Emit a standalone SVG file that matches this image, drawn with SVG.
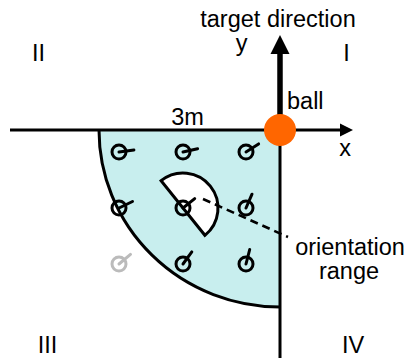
<svg xmlns="http://www.w3.org/2000/svg" width="407" height="358" viewBox="0 0 407 358">
<style>
text{font-family:"Liberation Sans",Arial,sans-serif;font-size:23.5px;fill:#000}
.ax{stroke:#000;stroke-width:3;fill:none}
.mk circle{fill:none;stroke:#000;stroke-width:3}
.mk line{stroke:#000;stroke-width:3;stroke-linecap:round}
.gray circle,.gray line{stroke:#BBBBBB}
</style>
<rect width="407" height="358" fill="#fff"/>
<g id="region">
<path d="M280,130 L99,130 A181,177 0 0 0 280,307 Z" fill="#C8EEEE"/>
<path d="M99,130 A181,177 0 0 0 280,307" class="ax"/>
</g>
<g id="axes">
<line x1="10" y1="130" x2="341" y2="130" class="ax"/>
<polygon points="353,130 340,123.5 340,136.5" fill="#000"/>
<line x1="280" y1="130" x2="280" y2="358" class="ax"/>
<line x1="280" y1="130" x2="280" y2="52" stroke="#000" stroke-width="5.5"/>
<polygon points="280,35 270.5,54 289.5,54" fill="#000"/>
</g>
<g id="m11" class="mk"><circle cx="119" cy="152" r="7"/><line x1="119" y1="152" x2="133.9" y2="150"/></g>
<g id="m12" class="mk"><circle cx="183" cy="152" r="7"/><line x1="183" y1="152" x2="197.6" y2="148.7"/></g>
<g id="m13" class="mk"><circle cx="246" cy="152" r="7"/><line x1="246" y1="152" x2="258.6" y2="143.9"/></g>
<g id="m21" class="mk"><circle cx="119" cy="208" r="7"/><line x1="119" y1="208" x2="132.5" y2="201.5"/></g>
<g id="m23" class="mk"><circle cx="246" cy="208" r="7"/><line x1="246" y1="208" x2="252" y2="194.2"/></g>
<g id="m31" class="mk gray"><circle cx="119" cy="264" r="7"/><line x1="119" y1="264" x2="130.5" y2="254.4"/></g>
<g id="m32" class="mk"><circle cx="183" cy="264" r="7"/><line x1="183" y1="264" x2="191.8" y2="251.9"/></g>
<g id="m33" class="mk"><circle cx="246" cy="264" r="7"/><line x1="246" y1="264" x2="249.7" y2="249.5"/></g>
<g id="wedge">
<path d="M183,208 L161.1,180.7 A35,35 0 0 1 210.3,186.1 A35,35 0 0 1 204.9,235.3 Z" fill="#fff" stroke="#000" stroke-width="3" stroke-linejoin="miter"/>
</g>
<g id="m22" class="mk"><circle cx="183" cy="208" r="7"/><line x1="183" y1="208" x2="194.7" y2="198.6"/></g>
<g id="connectors">
<line x1="203" y1="199" x2="288" y2="237" stroke="#000" stroke-width="2.6" stroke-dasharray="8,5"/>
</g>
<g id="ball"><circle cx="280" cy="130" r="16" fill="#FF6600"/></g>
<g id="labels">
<text x="278" y="27" text-anchor="middle">target direction</text>
<text x="241.5" y="51" text-anchor="middle">y</text>
<text x="346.5" y="61" text-anchor="middle">I</text>
<text x="38.5" y="61" text-anchor="middle">II</text>
<text x="47.5" y="353" text-anchor="middle">III</text>
<text x="353" y="353" text-anchor="middle">IV</text>
<text x="287" y="109">ball</text>
<text x="345" y="156" text-anchor="middle">x</text>
<text x="187.5" y="125" text-anchor="middle">3m</text>
<text x="350" y="255" text-anchor="middle">orientation</text>
<text x="349" y="279" text-anchor="middle">range</text>
</g>
</svg>
